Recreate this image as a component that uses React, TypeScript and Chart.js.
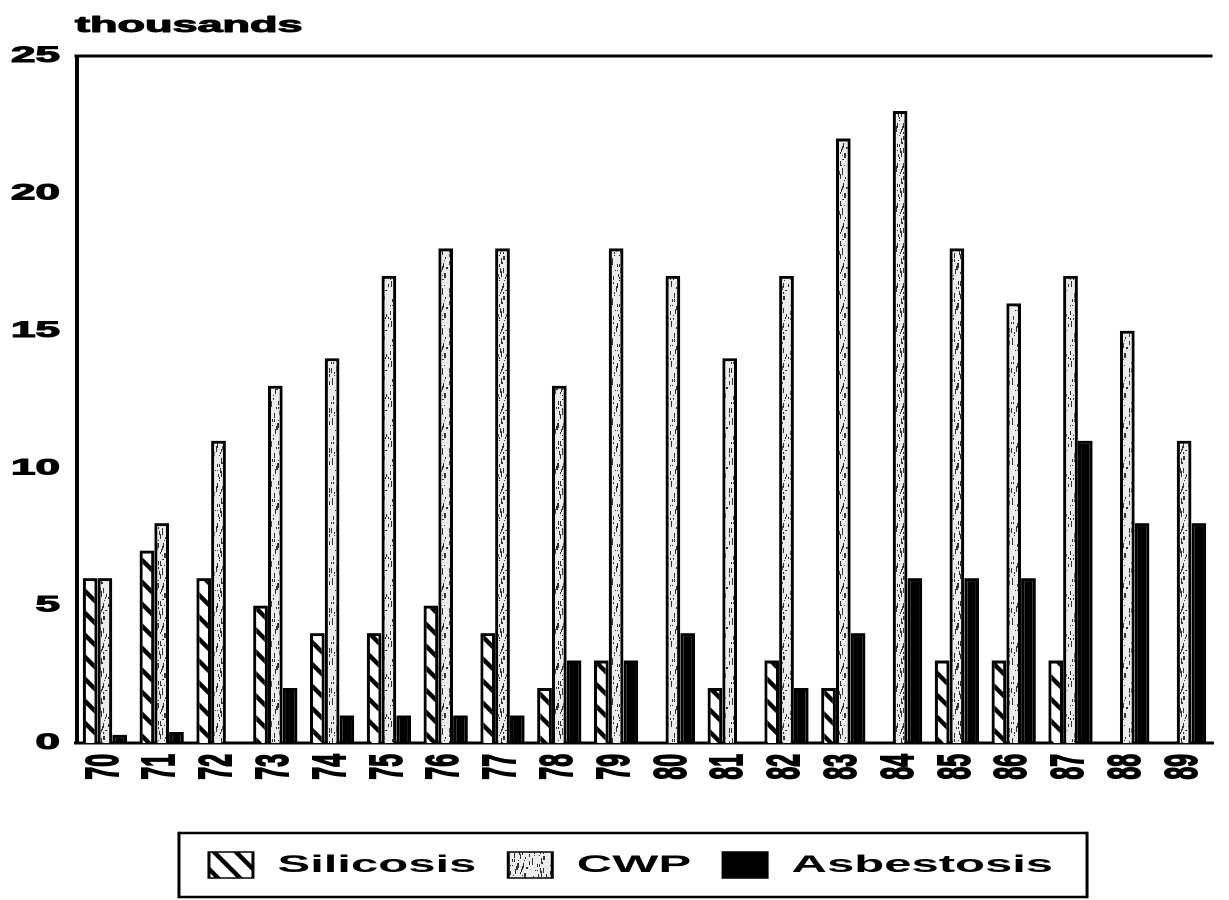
import React, { useEffect, useRef } from 'react';
import { Chart, registerables } from 'chart.js';

Chart.register(...registerables);

// ---- data ----
const YEARS = ['70', '71', '72', '73', '74', '75', '76', '77', '78', '79', '80', '81', '82', '83', '84', '85', '86', '87', '88', '89'];
const SILICOSIS = [6, 7, 6, 5, 4, 4, 5, 4, 2, 3, 0, 2, 3, 2, 0, 3, 3, 3, 0, 0];
const CWP = [6, 8, 11, 13, 14, 17, 18, 18, 13, 18, 17, 14, 17, 22, 23, 18, 16, 17, 15, 11];
const ASBESTOSIS = [0.3, 0.4, 0.05, 2, 1, 1, 1, 1, 3, 3, 4, 0, 2, 4, 6, 6, 6, 11, 8, 8];
const SERIES_NAMES = ['Silicosis', 'CWP', 'Asbestosis'];
const Y_TICKS = [0, 5, 10, 15, 20, 25];
const UNIT_LABEL = 'thousands';

// ---- layout / style ----
const SX = 2; // horizontal stretch of the whole picture
const W = 631; // logical canvas width
const H = 900;
const FONT = '"Liberation Sans", Arial, Helvetica, sans-serif';

function makeHatch(): CanvasPattern | string {
  const T = 22;
  const c = document.createElement('canvas');
  c.width = T;
  c.height = T * 2;
  const g = c.getContext('2d')!;
  g.setTransform(1, 0, 0, 2, 0, 0);
  g.fillStyle = '#fff';
  g.fillRect(0, 0, T, T);
  g.strokeStyle = '#000';
  g.lineWidth = 4.4;
  for (const k of [-1, 0, 1]) {
    g.beginPath();
    g.moveTo(k * T - 3, -3);
    g.lineTo(k * T + T + 3, T + 3);
    g.stroke();
  }
  const p = g.createPattern(c, 'repeat');
  if (!p) return '#fff';
  p.setTransform(new DOMMatrix([0.5, 0, 0, 0.5, 0, 0]));
  return p;
}

function makeStipple(): CanvasPattern | string {
  const T = 40;
  const c = document.createElement('canvas');
  c.width = T;
  c.height = T * 2;
  const g = c.getContext('2d')!;
  g.fillStyle = '#ececec';
  g.fillRect(0, 0, T, T * 2);
  g.fillStyle = '#333';
  for (let i = 0; i < 90; i++) {
    const x = (i * 17 + ((i * i) % 13)) % T;
    const y = ((i * 29 + 5) % T) * 2;
    const h = 2 + ((i * 7) % 5) * 2;
    g.fillRect(x, y, 1, h);
  }
  const p = g.createPattern(c, 'repeat');
  if (!p) return '#ddd';
  p.setTransform(new DOMMatrix([0.5, 0, 0, 0.5, 0, 0]));
  return p;
}

const decorPlugin = {
  id: 'decor',
  afterDraw(chart: any) {
    const { ctx, chartArea } = chart;
    ctx.save();
    // top frame line
    ctx.strokeStyle = '#000';
    ctx.lineWidth = 3;
    ctx.beginPath();
    ctx.moveTo(chartArea.left - 1, chartArea.top);
    ctx.lineTo(chartArea.right, chartArea.top);
    ctx.stroke();

    // legend frame
    const hb = chart.legend && chart.legend.legendHitBoxes;
    if (hb && hb.length) {
      const first = hb[0];
      const last = hb[hb.length - 1];
      const l = first.left - 15;
      const r = last.left + last.width + 17;
      const cy = first.top + first.height / 2;
      const t = cy - 32;
      const b = cy + 32;
      ctx.lineWidth = 2.5;
      ctx.beginPath();
      ctx.moveTo(l, t);
      ctx.lineTo(r, t);
      ctx.moveTo(l, b);
      ctx.lineTo(r, b);
      ctx.stroke();
      ctx.lineWidth = 1.5;
      ctx.beginPath();
      ctx.moveTo(l, t - 1.2);
      ctx.lineTo(l, b + 1.2);
      ctx.moveTo(r, t - 1.2);
      ctx.lineTo(r, b + 1.2);
      ctx.stroke();
    }

    // unit label
    ctx.fillStyle = '#000';
    ctx.font = `bold 22.5px ${FONT}`;
    ctx.textAlign = 'left';
    ctx.textBaseline = 'alphabetic';
    ctx.lineWidth = 1;
    ctx.lineJoin = 'round';
    ctx.strokeText(UNIT_LABEL, 37.5, 32);
    ctx.fillText(UNIT_LABEL, 37.5, 32);
    ctx.restore();
  },
};

export default function App() {
  const ref = useRef<HTMLCanvasElement>(null);

  useEffect(() => {
    const canvas = ref.current;
    if (!canvas) return;
    const hatch = makeHatch();
    const stipple = makeStipple();
    const border = { top: 3, left: 1.6, right: 1.6, bottom: 0 };

    const chart = new Chart(canvas, {
      type: 'bar',
      data: {
        labels: YEARS,
        datasets: [
          { label: SERIES_NAMES[0], data: SILICOSIS, backgroundColor: hatch as any, borderColor: '#000', borderWidth: border as any },
          { label: SERIES_NAMES[1], data: CWP, backgroundColor: stipple as any, borderColor: '#000', borderWidth: border as any },
          { label: SERIES_NAMES[2], data: ASBESTOSIS, backgroundColor: '#000', borderColor: '#000', borderWidth: border as any },
        ],
      },
      options: {
        responsive: false,
        animation: false,
        devicePixelRatio: SX,
        layout: { padding: { left: 0, top: 56, right: 0, bottom: 12 } },
        datasets: {
          bar: { categoryPercentage: 0.78, barPercentage: 1.0 },
        },
        scales: {
          x: {
            type: 'category',
            grid: { display: false, drawTicks: false },
            border: { display: true, color: '#000', width: 3 },
            ticks: {
              color: '#000',
              font: { family: FONT, size: 23, weight: 'bold' },
              textStrokeColor: '#000',
              textStrokeWidth: 1,
              minRotation: 90,
              maxRotation: 90,
              autoSkip: false,
              padding: 11,
            },
            afterFit: (scale: any) => {
              scale.height = 93;
            },
          },
          y: {
            type: 'linear',
            position: 'left',
            min: 0,
            max: 25,
            grid: { display: false, drawTicks: false },
            border: { display: true, color: '#000', width: 2 },
            ticks: {
              color: '#000',
              font: { family: FONT, size: 22, weight: 'bold' },
              textStrokeColor: '#000',
              textStrokeWidth: 1,
              padding: 8.25,
            },
            afterBuildTicks: (scale: any) => {
              scale.ticks = Y_TICKS.map((v) => ({ value: v }));
            },
            afterFit: (scale: any) => {
              scale.width = 38.25;
            },
          },
          y2: {
            type: 'linear',
            position: 'right',
            display: true,
            grid: { display: false, drawTicks: false },
            border: { display: false },
            ticks: { display: false },
            afterFit: (scale: any) => {
              scale.width = 14;
            },
          },
        },
        plugins: {
          title: { display: false },
          tooltip: { enabled: false },
          legend: {
            display: true,
            position: 'bottom',
            onClick: () => {},
            labels: {
              boxWidth: 22,
              boxHeight: 26,
              padding: 16,
              color: '#000',
              font: { family: FONT, size: 24.5, weight: 'bold' },
              generateLabels: (c: any) =>
                c.data.datasets.map((ds: any, i: number) => ({
                  text: ds.label,
                  fillStyle: ds.backgroundColor,
                  strokeStyle: '#000',
                  lineWidth: 1.5,
                  hidden: false,
                  datasetIndex: i,
                  fontColor: '#000',
                })),
            },
          },
        },
      } as any,
      plugins: [decorPlugin],
    });

    return () => {
      chart.destroy();
    };
  }, []);

  return (
    <div
      style={{
        position: 'fixed',
        left: 0,
        top: 0,
        width: 1229,
        height: H,
        overflow: 'hidden',
        background: '#fff',
      }}
    >
      <canvas
        ref={ref}
        width={W}
        height={H}
        style={{ display: 'block', width: `${W * SX}px`, height: `${H}px` }}
      />
    </div>
  );
}
